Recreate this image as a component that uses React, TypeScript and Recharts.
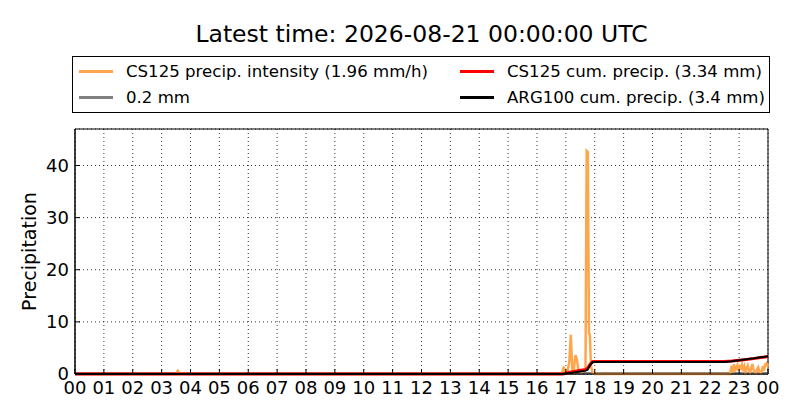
import { LineChart, Line, XAxis, YAxis, CartesianGrid, ReferenceLine, ReferenceArea } from "recharts";

// CS125 precipitation intensity (mm/h), sampled at hours since 00 UTC
const intensityHours = [
  0, 3.5, 3.56, 3.62, 3.7, 3.78, 3.84, 3.9,
  16.8, 16.88, 16.93, 16.98, 17.05, 17.12, 17.17, 17.22, 17.27, 17.33, 17.38, 17.44, 17.5, 17.56,
  17.62, 17.68, 17.72, 17.76, 17.8, 17.83, 17.87, 17.92, 17.96, 18.0,
  22.68, 22.74, 22.78, 22.82, 22.86, 22.9, 22.94, 22.98, 23.02, 23.06, 23.1, 23.14, 23.18, 23.22,
  23.26, 23.3, 23.34, 23.38, 23.42, 23.46, 23.5, 23.54, 23.58, 23.62, 23.66, 23.7, 23.74, 23.78,
  23.82, 23.86, 23.9, 23.94, 23.98, 24,
];
const intensityValues = [
  0, 0, 0.6, 0.1, 0, 0.2, 0, 0,
  0, 0.4, 1.4, 0.2, 0.1, 2.5, 7.5, 1.0, 0.5, 3.6, 2.8, 0.6, 0.3, 0.4,
  0.8, 1.2, 42.8, 42.6, 7.8, 7.6, 1.5, 0.4, 0.1, 0,
  0, 1.6, 0.3, 1.9, 0.5, 1.2, 1.7, 0.6, 1.4, 1.1, 1.8, 0.9, 1.5, 0.4,
  1.0, 1.6, 0.7, 0.3, 1.2, 1.9, 0.8, 0.4, 0.2, 0.9, 1.3, 0.5, 0.2, 0.4,
  1.5, 0.6, 1.8, 2.0, 1.6, 1.96,
];

// cumulative precipitation (mm)
const cumHours = [0, 16.9, 17.0, 17.17, 17.33, 17.5, 17.67, 17.75, 17.83, 17.92, 18.0, 22.5, 22.75, 23.0, 23.25, 23.5, 23.75, 24];
const cs125Cum = [0, 0, 0.15, 0.4, 0.55, 0.7, 0.8, 1.1, 1.8, 2.35, 2.4, 2.4, 2.5, 2.65, 2.8, 2.95, 3.15, 3.34];
const arg100Cum = [0, 0, 0.1, 0.2, 0.35, 0.5, 0.6, 0.8, 1.6, 2.25, 2.32, 2.32, 2.45, 2.65, 2.85, 3.0, 3.2, 3.4];

const hourTicks = [0, 1, 2, 3, 4, 5, 6, 7, 8, 9, 10, 11, 12, 13, 14, 15, 16, 17, 18, 19, 20, 21, 22, 23, 24];
const yTicks = [0, 10, 20, 30, 40];
const threshold = 0.2;

const intensityData = intensityHours.map((t, i) => ({ t, v: intensityValues[i] }));
const cumData = cumHours.map((t, i) => ({ t, cs: cs125Cum[i], arg: arg100Cum[i] }));

const font = "'DejaVu Sans', sans-serif";

const legendItems = [
  { label: "CS125 precip. intensity (1.96 mm/h)", color: "#ffa64d", left: 6, top: 14 },
  { label: "0.2 mm", color: "#808080", left: 6, top: 40 },
  { label: "CS125 cum. precip. (3.34 mm)", color: "#ff0000", left: 387, top: 14 },
  { label: "ARG100 cum. precip. (3.4 mm)", color: "#000000", left: 387, top: 40 },
];

export default function App() {
  return (
    <div style={{ position: "absolute", left: 0, top: 0, width: 800, height: 420, background: "#fff", fontFamily: font }}>
      <div style={{ position: "absolute", left: 75, width: 693, top: 20, textAlign: "center", fontSize: 23.5, color: "#000" }}>
        Latest time: 2026-08-21 00:00:00 UTC
      </div>
      <LineChart width={800} height={420} margin={{ top: 129, right: 32, left: 0, bottom: 16 }}>
        <CartesianGrid stroke="#000" strokeDasharray="1 3" strokeWidth={0.8} />
        <XAxis
          type="number"
          dataKey="t"
          domain={[0, 24]}
          ticks={hourTicks}
          interval={0}
          height={30}
          tickFormatter={(h: number) => String(h % 24).padStart(2, "0")}
          tick={{ fill: "#000", fontSize: 18, fontFamily: font }}
          tickSize={-5}
          tickMargin={12}
          tickLine={{ stroke: "#000" }}
          axisLine={{ stroke: "#000" }}
          allowDuplicatedCategory={false}
        />
        <YAxis
          type="number"
          domain={[0, 47]}
          ticks={yTicks}
          width={75}
          tick={{ fill: "#000", fontSize: 18, fontFamily: font }}
          tickSize={-5}
          tickMargin={11}
          tickLine={{ stroke: "#000" }}
          axisLine={{ stroke: "#000" }}
          label={{ value: "Precipitation", angle: -90, position: "center", dx: -8, style: { fill: "#000", fontSize: 19, fontFamily: font } }}
        />
        <ReferenceLine y={threshold} stroke="#808080" strokeWidth={2} />
        <Line data={intensityData} dataKey="v" stroke="#ffa64d" strokeWidth={2.5} dot={false} isAnimationActive={false} type="linear" />
        <Line data={cumData} dataKey="cs" stroke="#ff0000" strokeWidth={3} dot={false} isAnimationActive={false} type="linear" />
        <Line data={cumData} dataKey="arg" stroke="#000000" strokeWidth={2} dot={false} isAnimationActive={false} type="linear" />
        <ReferenceArea x1={0} x2={24} y1={0} y2={47} fill="none" stroke="#000" strokeWidth={1} />
      </LineChart>
      <div style={{ position: "absolute", left: 72, top: 56, width: 696, height: 55, border: "1px solid #000", background: "#fff" }}>
        {legendItems.map((it) => (
          <div key={it.label} style={{ position: "absolute", left: it.left, top: it.top - 10, height: 20, display: "flex", alignItems: "center" }}>
            <div style={{ width: 34, height: 3, background: it.color }} />
            <span style={{ marginLeft: 13, fontSize: 16.6, color: "#000", whiteSpace: "nowrap" }}>{it.label}</span>
          </div>
        ))}
      </div>
    </div>
  );
}
